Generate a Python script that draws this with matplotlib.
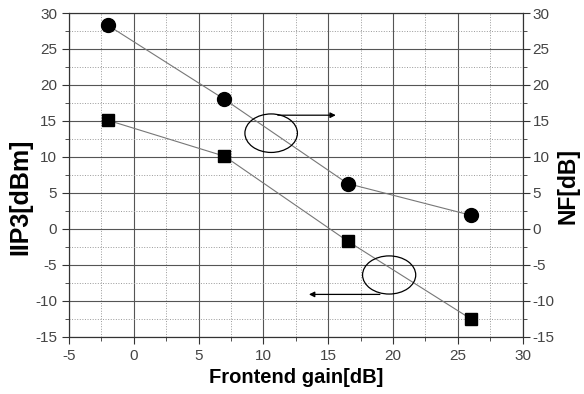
import matplotlib.pyplot as plt
from matplotlib.patches import Ellipse
import numpy as np

# --- data ---
gain = [-2, 7, 16.5, 26]             # Frontend gain [dB]
nf = [28.3, 18.0, 6.3, 1.9]          # NF [dB]  (circles)
iip3 = [15.1, 10.1, -1.7, -12.5]     # IIP3 [dBm] (squares)

x_ticks = np.arange(-5, 31, 5)
y_ticks = np.arange(-15, 31, 5)

plt.rcParams['font.family'] = ['Liberation Sans', 'DejaVu Sans']
plt.rcParams['axes.unicode_minus'] = False

fig = plt.figure(figsize=(5.84, 3.94), dpi=100)
ax = fig.add_axes([0.118, 0.145, 0.777, 0.822])

ax.plot(gain, nf, '-', color='#777777', lw=0.8, zorder=3)
ax.plot(gain, nf, 'o', color='black', ms=10, zorder=4)
ax.plot(gain, iip3, '-', color='#777777', lw=0.8, zorder=3)
ax.plot(gain, iip3, 's', color='black', ms=9, zorder=4)

ax.set_xlim(-5, 30)
ax.set_ylim(-15, 30)
ax.set_xticks(x_ticks)
ax.set_yticks(y_ticks)
ax.set_xticks(np.arange(-2.5, 30, 5), minor=True)
ax.set_yticks(np.arange(-12.5, 30, 5), minor=True)

ax.grid(which='major', color='#555555', lw=0.8, ls='-')
ax.grid(which='minor', color='#999999', lw=0.7, ls=':')
ax.set_axisbelow(True)

ax.tick_params(which='both', direction='out', labelsize=11, colors='#333333', labelcolor='#444444')
ax.tick_params(which='major', length=5)
ax.tick_params(which='minor', length=3)
for s in ax.spines.values():
    s.set_color('#333333')

ax.set_xlabel('Frontend gain[dB]', fontsize=14.5, fontweight='bold', labelpad=4)
ax.set_ylabel('IIP3[dBm]', fontsize=18, fontweight='bold')
ax.yaxis.set_label_coords(-0.08, 0.432)

ax2 = ax.twinx()
ax2.set_ylim(-15, 30)
ax2.set_yticks(y_ticks)
ax2.set_yticks(np.arange(-12.5, 30, 5), minor=True)
ax2.tick_params(which='both', direction='out', labelsize=11, colors='#333333',
                labelcolor='#444444', pad=2)
ax2.tick_params(which='major', length=5)
ax2.tick_params(which='minor', length=3)
ax2.set_ylabel('NF[dB]', fontsize=16.5, fontweight='bold')
ax2.yaxis.set_label_coords(1.074, 0.466)
for s in ax2.spines.values():
    s.set_color('#333333')

# annotation ellipses and arrows
ax.add_patch(Ellipse((10.6, 13.3), 4.05, 5.35, fill=False, ec='black', lw=0.9, zorder=5))
ax.annotate('', xy=(15.8, 15.8), xytext=(10.9, 15.8),
            arrowprops=dict(arrowstyle='-|>', color='black', lw=0.9, mutation_scale=8))
ax.add_patch(Ellipse((19.7, -6.4), 4.1, 5.3, fill=False, ec='black', lw=0.9, zorder=5))
ax.annotate('', xy=(13.3, -9.1), xytext=(19.2, -9.1),
            arrowprops=dict(arrowstyle='-|>', color='black', lw=0.9, mutation_scale=8))

fig.savefig('out.png', dpi=100)
